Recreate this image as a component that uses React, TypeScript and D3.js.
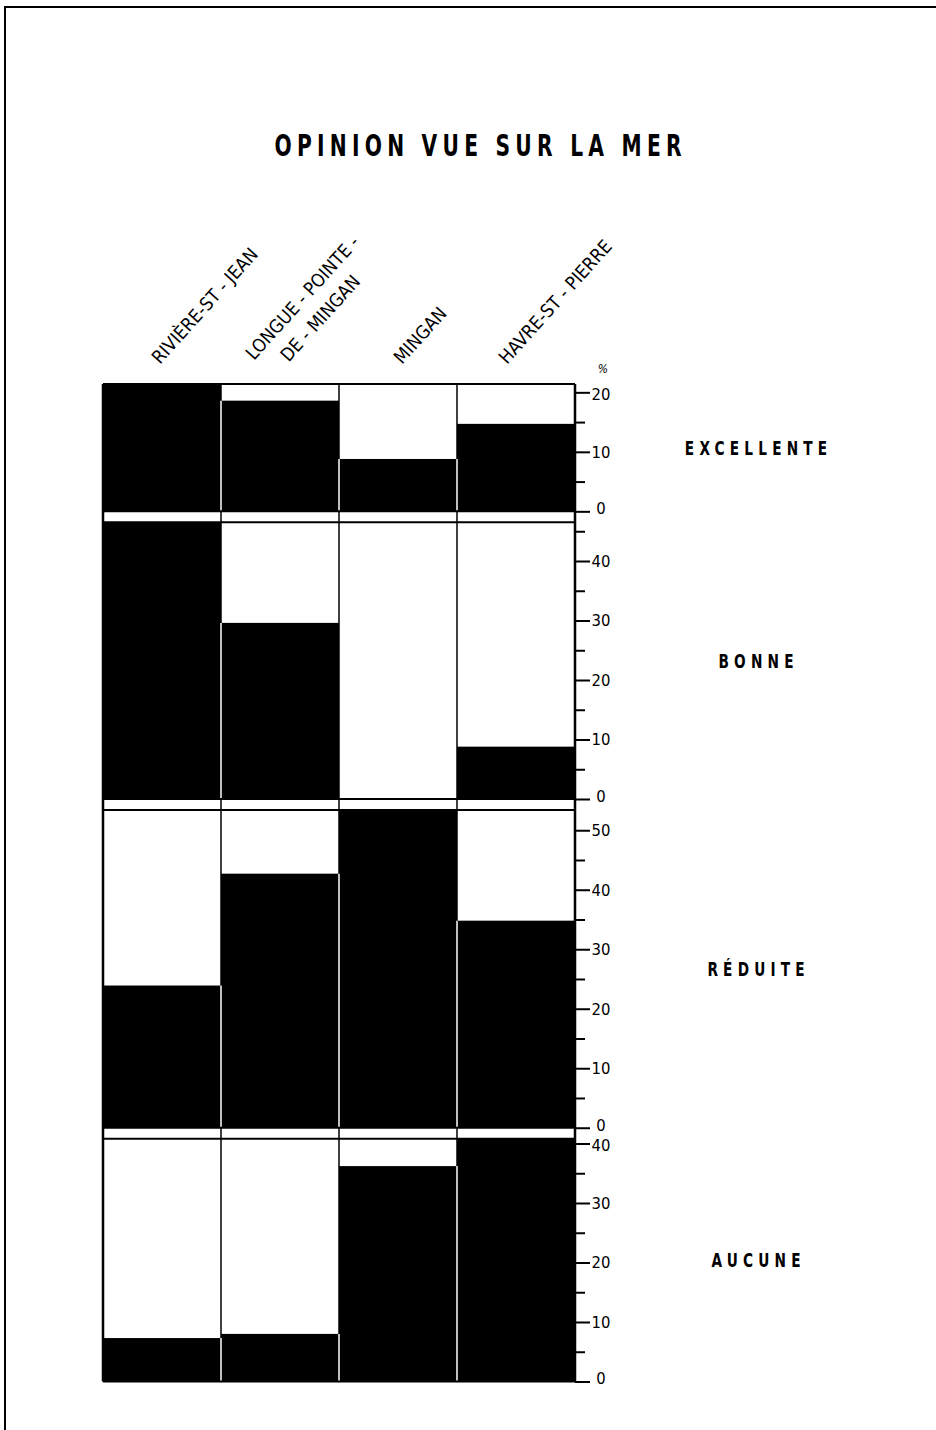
import * as d3 from 'd3'
import { useEffect, useRef } from 'react'

const WIDTH = 936
const HEIGHT = 1430
const CHART_LEFT = 103
const CHART_RIGHT = 575
const CHART_TOP = 384
const UNIT = 5.95 // px per %
const GAP = 11
const FONT = "'Liberation Sans Narrow', 'DejaVu Sans Condensed', 'Arial Narrow', sans-serif"

const TITLE = 'OPINION VUE SUR LA MER'
const VILLES = [
  ['RIVIÈRE-ST - JEAN'],
  ['LONGUE - POINTE -', 'DE - MINGAN'],
  ['MINGAN'],
  ['HAVRE-ST - PIERRE'],
]
const OPINIONS = ['EXCELLENTE', 'BONNE', 'RÉDUITE', 'AUCUNE']

// % of answers, one list per opinion, in the order of VILLES
const EXCELLENTE = [21.4, 18.6, 8.8, 14.7]
const BONNE = [46.5, 29.6, 0, 8.8]
const REDUITE = [23.9, 42.7, 53.4, 34.8]
const AUCUNE = [7.3, 8.0, 36.2, 40.8]
const VALUES = [EXCELLENTE, BONNE, REDUITE, AUCUNE]

const LABEL_DX = [-2, -26, 4, -9]

function drawChart(svgEl: SVGSVGElement) {
  const svg = d3.select(svgEl)
  svg.selectAll('*').remove()

  // page frame
  svg
    .append('path')
    .attr('d', `M5,${HEIGHT} V7 H${WIDTH}`)
    .attr('fill', 'none')
    .attr('stroke', '#000')
    .attr('stroke-width', 2)

  // condensed look: squeeze the glyphs horizontally
  svg
    .append('text')
    .attr('transform', 'translate(478,156) scale(0.75,1)')
    .attr('text-anchor', 'middle')
    .attr('font-family', FONT)
    .attr('font-weight', 'bold')
    .attr('font-size', 30)
    .attr('letter-spacing', 7)
    .attr('dx', 3.5)
    .text(TITLE)

  const x = d3.scaleBand<number>(d3.range(VILLES.length), [CHART_LEFT, CHART_RIGHT])

  // one y scale per panel, stacked with a small gap
  let top = CHART_TOP
  const panels = VALUES.map((vals) => {
    const max = d3.max(vals)!
    const h = max * UNIT
    const y = d3.scaleLinear([0, max], [top + h, top])
    const p = { vals, max, y, top, bottom: top + h }
    top += h + GAP
    return p
  })
  const chartBottom = panels[panels.length - 1].bottom

  // vertical frame lines (run through the gaps)
  const bounds = [...x.domain().map((d) => x(d)!), CHART_RIGHT]
  svg
    .append('g')
    .selectAll('line')
    .data(bounds)
    .join('line')
    .attr('x1', (d) => d)
    .attr('x2', (d) => d)
    .attr('y1', CHART_TOP)
    .attr('y2', chartBottom)
    .attr('stroke', '#000')
    .attr('stroke-width', (_, i) => (i === 0 || i === bounds.length - 1 ? 2.5 : 1.5))

  panels.forEach((p, i) => {
    const g = svg.append('g')

    g.selectAll('rect')
      .data(p.vals)
      .join('rect')
      .attr('x', (_, j) => x(j)!)
      .attr('width', x.bandwidth())
      .attr('y', (d) => p.y(d))
      .attr('height', (d) => p.y(0) - p.y(d))
      .attr('fill', '#000')

    // white separators between two black bars
    g.selectAll('line.sep')
      .data(d3.range(1, p.vals.length))
      .join('line')
      .attr('class', 'sep')
      .attr('x1', (j) => x(j)!)
      .attr('x2', (j) => x(j)!)
      .attr('y1', p.y(0))
      .attr('y2', (j) => p.y(Math.min(p.vals[j - 1], p.vals[j])))
      .attr('stroke', '#fff')
      .attr('stroke-width', 1.5)

    // top and bottom borders of the panel
    g.selectAll('line.edge')
      .data([p.top, p.bottom])
      .join('line')
      .attr('class', 'edge')
      .attr('x1', CHART_LEFT)
      .attr('x2', CHART_RIGHT)
      .attr('y1', (d) => d)
      .attr('y2', (d) => d)
      .attr('stroke', '#000')
      .attr('stroke-width', 2)

    // minor ticks every 5, labelled ticks every 10
    const minor = d3
      .axisRight(p.y)
      .tickValues(d3.range(5, p.max + 0.01, 10))
      .tickSize(10)
      .tickFormat(() => '')
    const major = d3
      .axisRight(p.y)
      .tickValues(d3.range(0, p.max + 0.01, 10))
      .tickSize(15)
      .tickFormat(d3.format('d'))
    for (const ax of [minor, major]) {
      const a = g
        .append('g')
        .attr('transform', `translate(${CHART_RIGHT},0)`)
        .call(ax)
      a.select('.domain').remove()
      a.selectAll('.tick line').attr('stroke', '#000').attr('stroke-width', 2)
      a.selectAll<SVGTextElement, number>('.tick text')
        .attr('x', 26)
        .attr('y', (d) => (d === 0 ? -3 : p.max - d < 2 ? 2 : 0))
        .attr('text-anchor', 'middle')
        .attr('font-family', FONT)
        .attr('font-size', 16.5)
        .attr('fill', '#000')
    }

    g.append('text')
      .attr(
        'transform',
        `translate(756,${(p.top + p.bottom) / 2}) scale(0.8,1)`,
      )
      .attr('dy', '0.36em')
      .attr('dx', 3.25)
      .attr('text-anchor', 'middle')
      .attr('font-family', FONT)
      .attr('font-weight', 'bold')
      .attr('font-size', 19)
      .attr('letter-spacing', 6.5)
      .text(OPINIONS[i])
  })

  svg
    .append('text')
    .attr('x', 603)
    .attr('y', 373)
    .attr('text-anchor', 'middle')
    .attr('font-family', FONT)
    .attr('font-style', 'italic')
    .attr('font-size', 12)
    .text('%')

  // rotated place names
  VILLES.forEach((lines, j) => {
    const t = svg
      .append('text')
      .attr(
        'transform',
        `translate(${x(j)! + x.bandwidth() / 2 + LABEL_DX[j]},${j === 1 ? 361 : 365}) rotate(-48)`,
      )
      .attr('font-family', FONT)
      .attr('font-size', 18.5)
    lines.forEach((line, k) => {
      t.append('tspan')
        .attr('x', k * 22)
        .attr('y', k * 27)
        .text(line)
    })
  })
}

export default function App() {
  const ref = useRef<SVGSVGElement>(null)
  useEffect(() => {
    if (ref.current) drawChart(ref.current)
  }, [])
  return (
    <svg
      ref={ref}
      width={WIDTH}
      height={HEIGHT}
      viewBox={`0 0 ${WIDTH} ${HEIGHT}`}
      style={{ position: 'absolute', left: 0, top: 0, background: '#fff' }}
    />
  )
}
